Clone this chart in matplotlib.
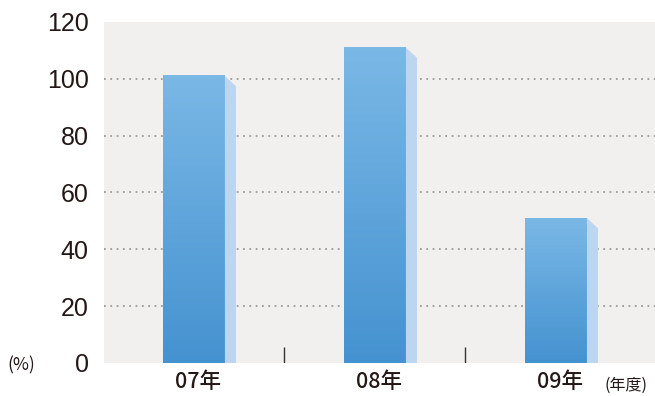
import matplotlib
matplotlib.use("Agg")
import matplotlib.pyplot as plt
import numpy as np
from matplotlib.patches import Polygon
from matplotlib.colors import LinearSegmentedColormap

plt.rcParams['font.family'] = ['Noto Sans CJK JP', 'DejaVu Sans']

categories = ['07年', '08年', '09年']
values = [101, 111, 51]
yticks = [0, 20, 40, 60, 80, 100, 120]

fig = plt.figure(figsize=(6.55, 3.96), dpi=100)
ax = fig.add_axes([104/655, 33/396, 551/655, 341/396])
ax.set_facecolor('#f2f0ee')
ax.set_xlim(-0.497, 2.547)
ax.set_ylim(0, 120)

for g in [20, 40, 60, 80, 100]:
    ax.axhline(g, color='#9a9a9a', lw=1.3, ls=(0, (1, 2.5)), zorder=1)

cmap = LinearSegmentedColormap.from_list('b', ['#4592d0', '#7ab8e6'])
grad = np.linspace(0, 1, 256).reshape(-1, 1)
w = 0.342
d = 0.061
drop = 3.6
for i, v in enumerate(values):
    x0 = i - w / 2
    ax.imshow(grad, cmap=cmap, origin='lower', aspect='auto',
              extent=[x0, x0 + w, 0, v], zorder=3)
    side = Polygon([(x0 + w, v), (x0 + w + d, v - drop), (x0 + w + d, 0), (x0 + w, 0)],
                   closed=True, facecolor='#bdd6f0', edgecolor='none', zorder=3)
    ax.add_patch(side)

ax.vlines([0.5, 1.5], 0, 5.6, color='#333333', lw=1, zorder=2)

ax.set_xticks([i + 0.02 for i in range(len(categories))])
ax.set_xticklabels(categories, fontsize=15.5, color='#231815', fontweight='medium')
ax.set_yticks(yticks)
ax.set_yticklabels([str(t) for t in yticks], fontsize=18, color='#231815',
                   family=['Liberation Sans', 'DejaVu Sans'])
ax.tick_params(axis='both', length=0)
ax.tick_params(axis='y', pad=11)
ax.tick_params(axis='x', pad=6)
for s in ax.spines.values():
    s.set_visible(False)

fig.text(7/655, 1 - 365/396, '(%)', fontsize=12.5, color='#231815', va='center', ha='left')
fig.text(605/655, 1 - 385/396, '(年度)', fontsize=11.5, color='#231815', va='center', ha='left')

fig.savefig('out.png', dpi=100)
